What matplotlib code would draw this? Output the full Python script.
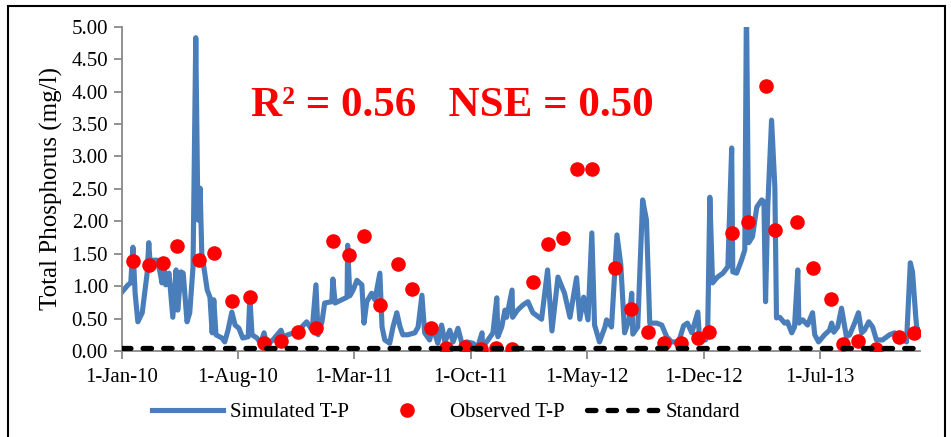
import numpy as np
import pandas as pd
import matplotlib
matplotlib.use("Agg")
import matplotlib.pyplot as plt
from matplotlib.patches import Rectangle

plt.rcParams['font.family'] = ['Liberation Serif', 'DejaVu Serif']

start = pd.Timestamp("2010-01-01")

# simulated T-P (days since 1-Jan-10, mg/l)
sim_day = [0, 11, 16, 20, 24, 29, 37, 46, 49, 51, 64, 70, 73, 77, 80, 86, 93, 99, 102, 108,
           112, 119, 124, 130, 135, 139, 143, 146, 156, 161, 165, 168, 172, 183, 188, 194, 201, 207, 214, 221,
           231, 234, 238, 247, 254, 260, 265, 276, 284, 291, 295, 304, 317, 329, 338, 348, 355, 359, 366, 371,
           384, 386, 390, 402, 412, 413, 417, 423, 430, 439, 443, 448, 457, 463, 472, 476, 481, 490, 496, 503,
           509, 514, 523, 536, 542, 549, 554, 563, 569, 578, 585, 591, 600, 606, 615, 622, 631, 642, 651, 659,
           660, 670, 679, 686, 688, 695, 701, 704, 714, 715, 724, 734, 743, 752, 768, 779, 787, 798, 810, 820,
           832, 838, 845, 853, 860, 865, 874, 884, 887, 896, 906, 913, 920, 928, 933, 935, 944, 953, 960, 966,
           979, 988, 997, 1006, 1019, 1028, 1035, 1043, 1054, 1057, 1068, 1072, 1076, 1081, 1090, 1100, 1109, 1116, 1118, 1125,
           1134, 1140, 1143, 1147, 1154, 1162, 1171, 1175, 1178, 1182, 1189, 1195, 1198, 1204, 1213, 1218, 1226, 1231, 1237, 1239,
           1246, 1255, 1264, 1268, 1275, 1286, 1295, 1299, 1303, 1310, 1317, 1326, 1332, 1341, 1348, 1354, 1359, 1367, 1374, 1381,
           1392, 1405, 1414, 1427, 1436, 1443, 1447, 1453, 1456, 1460]
sim_tp = [0.91, 1.02, 1.05, 1.60, 0.89, 0.45, 0.59, 1.20, 1.67, 1.40, 1.40, 1.20, 1.05, 1.30, 1.02, 1.20, 0.52, 1.25, 0.63, 1.22,
          1.20, 0.45, 0.59, 1.30, 4.83, 2.02, 2.51, 1.51, 0.94, 0.83, 0.28, 0.79, 0.25, 0.20, 0.14, 0.32, 0.60, 0.40, 0.35, 0.20,
          0.22, 0.83, 0.25, 0.20, 0.12, 0.28, 0.09, 0.17, 0.25, 0.32, 0.22, 0.25, 0.29, 0.37, 0.45, 0.32, 1.02, 0.25, 0.45, 0.74,
          0.76, 1.11, 0.74, 0.79, 0.83, 1.63, 0.85, 0.94, 1.09, 1.02, 0.43, 0.76, 0.89, 0.79, 1.20, 0.37, 0.17, 0.12, 0.37, 0.59,
          0.37, 0.25, 0.25, 0.28, 0.37, 0.86, 0.28, 0.17, 0.37, 0.12, 0.40, 0.14, 0.32, 0.14, 0.35, 0.12, 0.14, 0.12, 0.06, 0.28,
          0.06, 0.17, 0.28, 0.82, 0.22, 0.37, 0.63, 0.52, 0.94, 0.52, 0.63, 0.71, 0.76, 0.59, 0.49, 1.25, 0.31, 1.14, 0.89, 0.52,
          1.13, 0.49, 0.83, 0.48, 1.82, 0.40, 0.14, 0.37, 0.48, 0.37, 1.79, 1.33, 0.28, 0.48, 0.89, 0.26, 0.37, 2.33, 2.02, 0.43,
          0.43, 0.40, 0.22, 0.14, 0.14, 0.39, 0.43, 0.28, 0.60, 0.20, 0.17, 0.28, 2.37, 1.05, 1.14, 1.20, 1.30, 3.13, 1.22, 1.20,
          1.40, 1.56, 5.40, 1.67, 1.76, 2.22, 2.33, 2.30, 0.76, 2.22, 3.56, 2.53, 0.51, 0.52, 0.43, 0.45, 0.28, 0.37, 1.25, 0.43,
          0.48, 0.40, 0.59, 0.25, 0.14, 0.25, 0.32, 0.43, 0.29, 0.37, 0.66, 0.22, 0.25, 0.43, 0.59, 0.28, 0.32, 0.45, 0.37, 0.17,
          0.17, 0.25, 0.28, 0.20, 0.14, 1.36, 1.22, 0.52, 0.25, 0.32]

# observed T-P
obs_day = [20, 49, 75, 101, 141, 168, 201, 234, 260, 291, 322, 355, 386, 415, 443, 472, 505, 531, 565, 593,
           628, 657, 684, 714, 752, 779, 807, 832, 860, 902, 931, 962, 993, 1024, 1054, 1074, 1116, 1145, 1178, 1195,
           1235, 1264, 1297, 1319, 1348, 1381, 1422, 1449]
obs_tp = [1.39, 1.33, 1.36, 1.62, 1.40, 1.51, 0.77, 0.83, 0.12, 0.15, 0.29, 0.35, 1.70, 1.48, 1.77, 0.71, 1.34, 0.96, 0.35, 0.05,
          0.06, 0.03, 0.05, 0.03, 1.06, 1.65, 1.74, 2.81, 2.81, 1.28, 0.65, 0.29, 0.12, 0.12, 0.20, 0.29, 1.82, 1.99, 4.09, 1.87,
          1.99, 1.28, 0.80, 0.11, 0.15, 0.03, 0.21, 0.28]

standard_tp = 0.05
tick_dates = ["2010-01-01", "2010-08-01", "2011-03-01", "2011-10-01", "2012-05-01", "2012-12-01", "2013-07-01"]
tick_labels = ["1-Jan-10", "1-Aug-10", "1-Mar-11", "1-Oct-11", "1-May-12", "1-Dec-12", "1-Jul-13"]

sim_dates = start + pd.to_timedelta(sim_day, unit="D")
obs_dates = start + pd.to_timedelta(obs_day, unit="D")
end = start + pd.Timedelta(days=1460)

fig = plt.figure(figsize=(9.51, 4.37), dpi=100)
ax = fig.add_axes([0.1283, 0.1968, 0.8387, 0.7421])

ax.plot(sim_dates, sim_tp, color='#4a7ebb', lw=3.7, solid_joinstyle='round',
        label='Simulated T-P', zorder=2)
ax.plot(obs_dates, obs_tp, 'o', color='#ff0000', ms=10.5, mec='none',
        label='Observed T-P', zorder=3)
ax.plot([start, end], [standard_tp, standard_tp], color='black', lw=3.8,
        dashes=(1.6, 2.3), dash_capstyle='round', label='Standard', zorder=4)

ax.set_xlim(start, end)
ax.set_ylim(0, 5)
ax.set_yticks(np.arange(0, 5.01, 0.5))
ax.set_yticklabels(["%.2f" % v for v in np.arange(0, 5.01, 0.5)])
ax.set_xticks(pd.to_datetime(tick_dates))
ax.set_xticklabels(tick_labels)
ax.tick_params(axis='both', labelsize=15, color='#898989', width=1.3, length=6, direction='out')
ax.tick_params(axis='y', pad=4)
ax.tick_params(axis='x', pad=6)
for s in ['top', 'right']:
    ax.spines[s].set_visible(False)
for s in ['left', 'bottom']:
    ax.spines[s].set_color('#898989')
    ax.spines[s].set_linewidth(1.3)

ax.set_ylabel("Total Phosphorus (mg/l)", fontsize=18, labelpad=6)

fig.text(0.476, 0.757, "R\u00b2 = 0.56   NSE = 0.50", color='#ff0000', fontsize=31,
         fontweight='bold', ha='center', va='center')

fig.legend(loc='center', bbox_to_anchor=(0.469, 0.057), ncol=3, frameon=False, fontsize=15,
           handlelength=3.4, handletextpad=0.35, columnspacing=1.1)

fig.patches.append(Rectangle((8 / 951, -0.01), 937 / 951, 1 - 6 / 437 + 0.01,
                             transform=fig.transFigure, fill=False, edgecolor='black', lw=1.5))

fig.savefig("out.png", dpi=100)
